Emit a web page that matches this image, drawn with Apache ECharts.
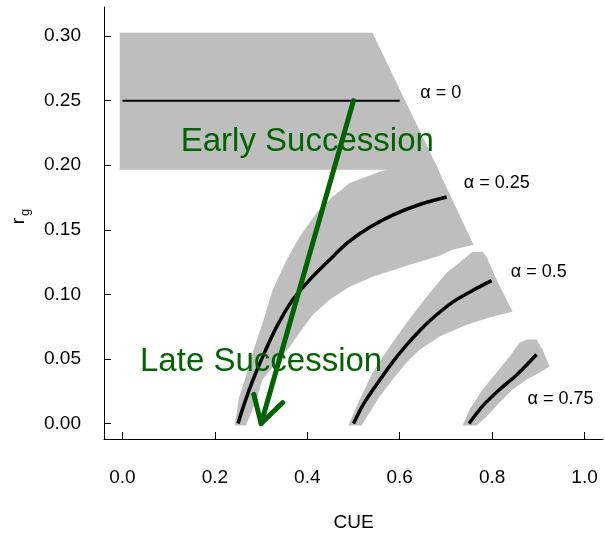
<!DOCTYPE html>
<html>
<head>
<meta charset="utf-8">
<script src="https://cdn.jsdelivr.net/npm/echarts@6/dist/echarts.min.js"></script>
<style>
  html, body { margin: 0; padding: 0; background: #fff; }
  #chart { width: 605px; height: 539px; }
</style>
</head>
<body>
<div id="chart"></div>
<script>
// tick labels
const xTicks = [0, 0.2, 0.4, 0.6, 0.8, 1.0];
const yTicks = [0, 0.05, 0.1, 0.15, 0.2, 0.25, 0.3];

// shaded ranges, [CUE, r_g] corners
const band0 = [[-0.006, 0.3026], [0.541, 0.3026], [0.684, 0.1964], [-0.006, 0.1964]];
const band25 = [
  [0.243, -0.0015], [0.252, 0.02], [0.265, 0.034], [0.282, 0.0549], [0.3035, 0.0781],
  [0.3251, 0.1036], [0.3554, 0.1268], [0.3835, 0.1446], [0.4203, 0.1631], [0.4549, 0.1755],
  [0.4917, 0.1863], [0.5566, 0.1949], [0.5998, 0.1995], [0.6733, 0.2041], [0.7598, 0.1384],
  [0.7144, 0.1345], [0.6863, 0.1299], [0.615, 0.1222], [0.5414, 0.1137], [0.4917, 0.1059],
  [0.4484, 0.0959], [0.4117, 0.0843], [0.3835, 0.0705], [0.362, 0.0595], [0.340, 0.0495],
  [0.321, 0.0418], [0.303, 0.0340], [0.290, 0.0186], [0.277, 0.0070], [0.267, -0.0015]
];
const band50 = [
  [0.4887, -0.0015], [0.5135, 0.0186], [0.5414, 0.0394], [0.5782, 0.0595], [0.615, 0.0781],
  [0.6583, 0.0982], [0.7015, 0.1168], [0.7448, 0.1291], [0.7578, 0.133], [0.7794, 0.133],
  [0.788, 0.1291], [0.8097, 0.1113], [0.8313, 0.0959], [0.8443, 0.0866], [0.7945, 0.082],
  [0.7448, 0.0765], [0.6863, 0.0673], [0.6431, 0.0572], [0.615, 0.0472], [0.5847, 0.034],
  [0.5566, 0.0209], [0.5349, 0.0085], [0.5176, -0.0015]
];
const band75 = [
  [0.7361, -0.0015], [0.7512, 0.0108], [0.7794, 0.0263], [0.8097, 0.0394], [0.8378, 0.0518],
  [0.8594, 0.0626], [0.8746, 0.065], [0.8963, 0.065], [0.9092, 0.0572], [0.9244, 0.0441],
  [0.9026, 0.0394], [0.8746, 0.034], [0.8443, 0.0263], [0.8162, 0.0162], [0.7881, 0.0054],
  [0.7664, -0.0015]
];

// fitted curves
const curve0 = [[0, 0.25], [0.6, 0.25]];
const curve25 = [
  [0.25, 0.0], [0.2645, 0.0162], [0.2819, 0.0333], [0.3035, 0.0518], [0.3338, 0.075],
  [0.3684, 0.0959], [0.4052, 0.1113], [0.4484, 0.1268], [0.4873, 0.14], [0.5349, 0.1519],
  [0.5847, 0.1614], [0.6431, 0.1696], [0.7015, 0.1754]
];
const curve50 = [
  [0.5, 0.0], [0.5241, 0.0165], [0.5566, 0.0335], [0.5847, 0.0475], [0.615, 0.0608],
  [0.6431, 0.0718], [0.6712, 0.0815], [0.7145, 0.094], [0.7578, 0.103], [0.7988, 0.1106]
];
const curve75 = [[0.75, 0.0], [0.7794, 0.0135], [0.8162, 0.0263], [0.8529, 0.0375], [0.8963, 0.0534]];

// succession arrow, start -> tip
const arrowPath = [[0.5, 0.25], [0.3, 0.0]];

// annotations [CUE, r_g, text]
const alphaLabels = [[0.689, 0.256, 'α = 0'], [0.81, 0.186, 'α = 0.25'], [0.901, 0.1175, 'α = 0.5'], [0.948, 0.0186, 'α = 0.75']];
const stageLabels = [[0.4, 0.2177, 'Early Succession'], [0.3, 0.0477, 'Late Succession']];

const FONT = "'Liberation Sans', Arial, sans-serif";
const GREEN = '#006400';

function polygonSeries(points) {
  return {
    type: 'custom',
    data: points,
    silent: true,
    z: 1,
    renderItem: function (params, api) {
      if (params.dataIndex !== 0) return;
      return {
        type: 'polygon',
        shape: { points: points.map(p => api.coord(p)) },
        style: { fill: '#bebebe' }
      };
    }
  };
}

function curveSeries(points, width) {
  return {
    type: 'line',
    data: points,
    showSymbol: false,
    smooth: 0.3,
    silent: true,
    z: 3,
    lineStyle: { color: '#000', width: width }
  };
}

function textSeries(labels, size, color) {
  return {
    type: 'custom',
    data: labels.map(l => [l[0], l[1]]),
    silent: true,
    z: 4,
    renderItem: function (params, api) {
      const p = api.coord([api.value(0), api.value(1)]);
      return {
        type: 'text',
        x: p[0], y: p[1],
        style: {
          text: labels[params.dataIndex][2],
          fontSize: size, fontFamily: FONT, fill: color,
          align: 'center', verticalAlign: 'middle'
        }
      };
    }
  };
}

const chart = echarts.init(document.getElementById('chart'));

const option = {
  animation: false,
  grid: { left: 104, right: 2, top: 7, bottom: 100 },
  xAxis: {
    type: 'value', min: -0.04, max: 1.04,
    name: 'CUE', nameLocation: 'middle', nameGap: 74,
    nameTextStyle: { fontSize: 19, color: '#000', fontFamily: FONT },
    axisLine: { onZero: false, lineStyle: { color: '#000', width: 1 } },
    axisTick: { inside: true, length: 7, customValues: xTicks, lineStyle: { color: '#000' } },
    axisLabel: { customValues: xTicks, formatter: v => v.toFixed(1), fontSize: 19, color: '#000', fontFamily: FONT, margin: 29 },
    splitLine: { show: false }
  },
  yAxis: {
    type: 'value', min: -0.012, max: 0.3225,
    axisLine: { onZero: false, lineStyle: { color: '#000', width: 1 } },
    axisTick: { inside: true, length: 7, customValues: yTicks, lineStyle: { color: '#000' } },
    axisLabel: { customValues: yTicks, formatter: v => v.toFixed(2), fontSize: 19, color: '#000', fontFamily: FONT, margin: 23 },
    splitLine: { show: false }
  },
  graphic: [
    { type: 'text', x: 18.7, y: 221, rotation: Math.PI / 2,
      style: { text: 'r', fontSize: 19, fontFamily: FONT, fill: '#000', align: 'center', verticalAlign: 'middle' } },
    { type: 'text', x: 25, y: 212.5, rotation: Math.PI / 2,
      style: { text: 'g', fontSize: 13, fontFamily: FONT, fill: '#000', align: 'center', verticalAlign: 'middle' } }
  ],
  series: [
    polygonSeries(band0),
    polygonSeries(band25),
    polygonSeries(band50),
    polygonSeries(band75),
    curveSeries(curve0, 2),
    curveSeries(curve25, 3.5),
    curveSeries(curve50, 3.5),
    curveSeries(curve75, 3.5),
    textSeries(alphaLabels, 18, '#000'),
    textSeries(stageLabels, 33, GREEN),
    {
      type: 'custom',
      data: arrowPath,
      silent: true,
      z: 5,
      renderItem: function (params, api) {
        if (params.dataIndex !== 0) return;
        const a = api.coord(arrowPath[0]);
        const b = api.coord(arrowPath[1]);
        const ang = Math.atan2(a[1] - b[1], a[0] - b[0]);
        const len = 30, spread = Math.PI / 6;
        const w1 = [b[0] + len * Math.cos(ang + spread), b[1] + len * Math.sin(ang + spread)];
        const w2 = [b[0] + len * Math.cos(ang - spread), b[1] + len * Math.sin(ang - spread)];
        const st = { stroke: GREEN, lineWidth: 5, lineCap: 'round', lineJoin: 'round', fill: 'none' };
        return {
          type: 'group',
          children: [
            { type: 'line', shape: { x1: a[0], y1: a[1], x2: b[0], y2: b[1] }, style: st },
            { type: 'polyline', shape: { points: [w1, b, w2] }, style: st }
          ]
        };
      }
    }
  ]
};

chart.setOption(option);
</script>
</body>
</html>
